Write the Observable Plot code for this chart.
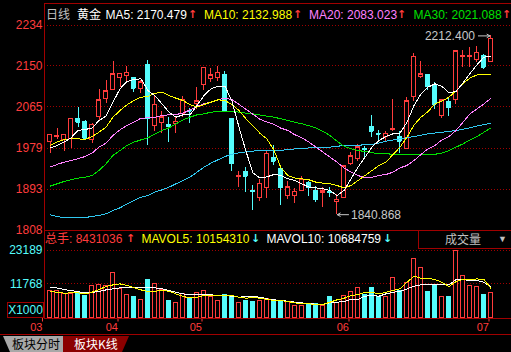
<!DOCTYPE html>
<html><head><meta charset="utf-8">
<script src="https://cdn.jsdelivr.net/npm/d3@7"></script>
<script src="https://cdn.jsdelivr.net/npm/@observablehq/plot@0.6"></script>
<style>
html,body{margin:0;padding:0;background:#000;}
#wrap{position:relative;width:511px;height:352px;overflow:hidden;background:#000;font-family:"Liberation Sans",Arial,"Noto Sans CJK SC",sans-serif;font-size:12px;}
.t{position:absolute;white-space:nowrap;line-height:14px;}
.ln{position:absolute;background:#a00000;}
.ar{font-family:"DejaVu Sans",sans-serif;font-weight:bold;font-size:11px;}
#wrap svg{position:absolute;left:0;overflow:visible;}
</style></head><body><div id="wrap"></div>
<script>
const RED = "#ff3c3c", CYAN = "#54fcfc", GRID = "#a00000", AXIS = "#a00000";
const FONT = '"Liberation Sans", Arial, "Noto Sans CJK SC", sans-serif';

// ---- daily candles (index 0..63) ----
const opens  = [1991.6,2003.3,1996.4,1998.5,2038.7,2034.5,1996.4,2043.5,2081.0,2100.3,2125.3,2129.4,2125.3,2101.7,2150.9,2024.8,2031.0,2027.6,2029.0,2050.4,2056.7,2070.5,2110.7,2121.8,2124.6,2130.1,2038.7,1920.2,1930.6,1889.8,1875.9,1896.0,1958.2,1936.8,1879.3,1880.1,1891.1,1907.1,1891.1,1885.5,1887.4,1866.8,1875.1,1946.6,1957.0,1977.0,2022.7,2008.9,2002.0,2016.5,2003.3,1977.7,2085.0,2128.0,2130.1,2109.3,2046.0,2074.7,2080.0,2168.9,2168.9,2162.7,2169.6,2157.8];
const highs  = [2007.5,2019.3,2007.5,2040.5,2062.9,2036.6,2031.0,2100.3,2119.7,2159.2,2134.0,2148.8,2126.0,2119.7,2161.3,2088.5,2055.3,2042.1,2043.5,2086.5,2060.8,2105.2,2147.0,2145.3,2148.1,2138.4,2039.0,1930.6,1939.6,1901.5,1913.3,1972.2,1984.6,1939.5,1909.8,1894.7,1920.2,1909.8,1899.4,1898.0,1898.0,1882.2,1941.5,1970.7,1986.1,1982.6,2047.0,2016.0,2013.0,2079.5,2013.7,2085.1,2176.5,2158.5,2131.0,2115.2,2078.8,2082.7,2180.6,2183.0,2187.6,2190.4,2173.0,2212.4];
const lows   = [1968.7,1997.1,1972.8,1977.7,2021.4,1997.1,1989.5,2036.6,2071.2,2100.0,2105.9,2116.3,2095.5,2092.0,1985.0,2013.7,2010.3,1991.6,2008.9,2043.5,2031.0,2058.8,2098.9,2116.3,2118.3,2056.0,1931.3,1898.0,1887.7,1849.6,1868.3,1875.2,1943.1,1860.0,1872.4,1864.8,1891.1,1879.3,1866.8,1856.4,1876.0,1840.868,1875.0,1943.1,1951.4,1960.3,2001.9,1996.0,1990.0,2014.4,1968.7,1977.0,2076.1,2123.2,2099.5,2058.8,2040.8,2044.2,2070.0,2147.4,2147.4,2157.8,2141.9,2157.5];
const closes = [2006.8,2004.7,2006.8,2040.1,2033.1,1999.9,2027.6,2078.2,2096.9,2132.2,2133.6,2136.3,2103.8,2115.6,2040.1,2069.8,2043.5,2024.8,2034.5,2079.5,2055.3,2076.1,2146.7,2130.1,2136.3,2056.0,1946.5,1921.6,1920.9,1888.4,1905.0,1967.3,1952.0,1896.7,1898.0,1888.4,1913.4,1898.0,1872.4,1889.1,1886.0,1872.4,1941.0,1961.8,1981.1,1976.0,2014.4,2007.9,2008.9,2017.9,1993.6,2076.4,2168.8,2132.9,2107.5,2070.2,2078.2,2063.0,2180.0,2170.0,2170.3,2177.2,2147.4,2206.3];
// volume, x1000
const volumes = [9300,9430,8290,8290,8860,7450,11150,11490,11150,15610,10000,8060,7150,6350,12980,11720,9660,6000,5320,8400,6800,8630,9430,7150,6000,7830,7380,5200,6000,5430,6000,6580,6000,6000,5660,4290,4290,4860,4860,4290,7380,5200,7720,9090,10460,7950,10230,7380,7150,13790,9430,12070,20300,17220,9090,11150,7380,7380,23050,14580,11150,10700,7950,8431];

// ---- moving averages ----
const ma5  = [1979.1,1984.6,1991.6,2000.6,2015.8,2017.9,2020.7,2036.6,2045.6,2074.7,2102.4,2117.6,2121.8,2123.2,2098.9,2088.0,2071.2,2053.9,2043.5,2048.4,2048.4,2067.8,2088.5,2102.4,2108.0,2108.0,2076.4,2022.7,1972.5,1927.5,1917.0,1919.5,1924.4,1922.3,1915.4,1911.9,1905.0,1898.1,1896.6,1894.6,1891.1,1880.7,1891.1,1915.4,1939.6,1960.4,1981.2,1995.0,2003.3,2008.9,2010.3,2033.1,2067.7,2092.0,2105.8,2112.8,2107.5,2094.0,2097.0,2114.5,2134.2,2152.5,2168.2,2170.5];
const ma10 = [1984.6,1991.6,1997.1,1998.5,1998.5,1997.1,2003.3,2012.3,2022.7,2043.5,2057.4,2069.1,2078.2,2085.1,2086.5,2093.0,2095.5,2088.5,2083.0,2078.2,2069.8,2064.3,2069.8,2074.7,2079.5,2078.2,2069.5,2057.4,2040.0,2025.0,2010.0,1998.0,1975.0,1938.0,1922.3,1916.8,1915.4,1913.3,1908.4,1906.3,1905.0,1901.5,1896.6,1901.5,1911.9,1922.3,1932.7,1943.1,1950.0,1966.0,1981.0,2002.0,2027.0,2043.5,2055.0,2071.2,2077.0,2085.0,2098.0,2113.0,2125.0,2131.2,2131.5,2133.0];
const ma20 = [1939.6,1945.2,1950.0,1953.5,1957.0,1961.8,1968.7,1981.2,1989.5,2005.4,2017.2,2026.2,2033.1,2041.4,2042.1,2043.5,2047.0,2048.4,2049.1,2051.8,2058.8,2065.7,2071.2,2074.7,2080.2,2083.0,2080.0,2070.0,2060.0,2049.5,2039.0,2033.5,2028.3,2020.6,2015.8,2006.8,2000.6,1991.6,1981.2,1970.8,1960.4,1950.0,1938.2,1929.2,1922.3,1917.5,1918.8,1922.3,1924.4,1929.2,1938.2,1943.1,1953.5,1965.9,1977.7,1984.6,1996.4,2003.3,2015.8,2033.1,2050.4,2060.8,2071.2,2083.0];
const ma30 = [1900.1,1905.0,1909.8,1913.3,1916.8,1918.8,1922.3,1932.7,1946.5,1963.9,1974.2,1984.6,1991.6,1996.4,2000.6,2008.9,2015.8,2021.4,2029.7,2038.0,2043.5,2048.4,2050.4,2053.9,2055.3,2056.0,2055.6,2054.0,2052.0,2050.5,2048.0,2045.5,2043.5,2040.0,2036.6,2033.0,2029.7,2025.5,2021.4,2014.0,2005.4,1993.6,1983.2,1977.7,1974.2,1972.2,1969.4,1968.3,1967.3,1966.6,1965.9,1965.9,1965.9,1965.9,1965.9,1966.5,1968.7,1974.2,1981.2,1988.1,1996.4,2003.3,2012.3,2021.1];
const ma60 = [1840.6,1837.1,1834.3,1834.3,1834.3,1835.0,1837.1,1839.2,1842.6,1849.6,1855.1,1863.4,1870.3,1877.3,1880.7,1887.7,1892.5,1898.0,1905.0,1911.9,1918.8,1929.2,1939.6,1948.0,1954.9,1961.8,1966.5,1969.5,1971.5,1973.0,1974.2,1974.2,1974.2,1975.0,1975.6,1977.5,1979.1,1979.5,1979.8,1980.5,1981.2,1983.0,1984.6,1985.0,1985.3,1986.0,1986.7,1990.0,1993.6,1996.0,1998.5,2001.0,2003.3,2006.0,2008.9,2010.5,2012.3,2014.0,2015.8,2018.5,2021.4,2025.0,2028.3,2031.0];
const mavol5  = [9090,8860,8520,8630,8630,8290,8860,9780,10800,11380,11720,11150,10460,9660,9090,9200,9430,9200,8290,7380,6920,7150,7720,7720,7600,7720,7720,7150,6800,7000,6800,6400,6000,6000,5660,5200,4860,4860,4630,4630,5430,6240,6800,7720,8060,8860,8860,8290,8860,9430,10010,12280,14340,13650,13650,13210,12280,10800,12520,13210,13210,13430,13210,10154];
const mavol10 = [10560,10300,9780,9430,9090,8630,8800,9090,9660,10010,10350,10350,10350,10400,10350,10350,10010,9430,8860,8290,8060,8060,8060,7950,7720,7720,7490,7150,7380,7380,7150,6580,6240,6000,5770,5430,5200,4970,4740,4740,5200,5430,5660,6350,6350,7490,7720,7490,8290,8860,9090,10010,10910,11380,11380,11380,11380,11380,13210,13210,12860,12860,12280,10685];

// ---- labels / ticks ----
const priceTicks = [2234, 2150, 2065, 1979, 1893, 1808];
const volTicks = [23189, 11768];
const monthTicks = [-0.79, 10, 22, 43, 63];
const monthLabels = ["03", "04", "05", "06", "07"];
const maNames = ["MA5", "MA10", "MA20", "MA30"];
const maLast = ["2170.479", "2132.988", "2083.023", "2021.088"];
const maColors = ["#ffffff", "#ffff00", "#ff80ff", "#00e000"];
const volTitle = ["总手", "8431036"], mavolNames = ["MAVOL5", "MAVOL10"], mavolLast = ["10154310", "10684759"];

// ---- build ----
const wrap = document.getElementById("wrap");
const n = opens.length;
const K = d3.range(n).map(i => ({i, o: opens[i], h: highs[i], l: lows[i], c: closes[i], v: volumes[i], up: closes[i] >= opens[i]}));
const up = K.filter(d => d.up), dn = K.filter(d => !d.up);
const HW = 2 / 7;
const xDomain = [-0.786, 65.93];
const crisp = {shapeRendering: "crispEdges"};
const series = arr => arr.map((v, i) => ({i, v}));
const line = (arr, color) => Plot.line(series(arr), {x: "i", y: "v", stroke: color, strokeWidth: 1, ...crisp});

const hi = d3.maxIndex(highs), lo = d3.minIndex(lows);
const ANN = "#c8c8c8";

const price = Plot.plot({
  width: 511, height: 231, marginLeft: 44, marginRight: 0, marginTop: 25, marginBottom: 1,
  style: {background: "transparent", fontFamily: FONT, fontSize: "12px", overflow: "visible"},
  x: {domain: xDomain, axis: null},
  y: {domain: [1808, 2234]},
  marks: [
    Plot.ruleY(priceTicks.slice(0, 5), {stroke: GRID, strokeDasharray: "1,2", ...crisp}),
    Plot.axisY(priceTicks, {tickSize: 0, tickPadding: 2, color: RED, fontSize: 12, label: null, tickFormat: d => String(d)}),
    Plot.ruleX(up, {x: "i", y1: "l", y2: "h", stroke: RED, ...crisp}),
    Plot.ruleX(dn, {x: "i", y1: "l", y2: "h", stroke: CYAN, ...crisp}),
    Plot.rect(up, {x1: d => d.i - HW, x2: d => d.i + HW, y1: "o", y2: "c", fill: "#000", stroke: RED, ...crisp}),
    Plot.rect(dn, {x1: d => d.i - HW, x2: d => d.i + HW, y1: "o", y2: "c", fill: CYAN, stroke: CYAN, ...crisp}),
    Plot.ruleY(up, {y: "c", x1: d => d.i - HW, x2: d => d.i + HW, stroke: RED, ...crisp}),
    Plot.ruleY(dn, {y: "c", x1: d => d.i - HW, x2: d => d.i + HW, stroke: CYAN, ...crisp}),
    line(ma60, "#30c8f0"),
    line(ma30, "#00e000"),
    line(ma20, "#ff80ff"),
    line(ma10, "#ffff00"),
    line(ma5, "#ffffff"),
    Plot.arrow([hi], {x1: d => d - 1.8, x2: d => d - 0.15, y1: d => highs[d], y2: d => highs[d], stroke: ANN, headLength: 5, strokeWidth: 1}),
    Plot.text([hi], {x: d => d, y: d => highs[d], text: d => highs[d].toFixed(3), textAnchor: "end", dx: -16, fill: ANN, fontSize: 12}),
    Plot.arrow([lo], {x1: d => d + 1.65, x2: d => d + 0.05, y1: d => lows[d], y2: d => lows[d], stroke: ANN, headLength: 5, strokeWidth: 1}),
    Plot.text([lo], {x: d => d, y: d => lows[d], text: d => lows[d].toFixed(3), textAnchor: "start", dx: 14, fill: ANN, fontSize: 12})
  ]
});
price.style.top = "0px";
wrap.appendChild(price);

const upV = K.filter(d => d.up), dnV = K.filter(d => !d.up);
const vol = Plot.plot({
  width: 511, height: 105, marginLeft: 44, marginRight: 0, marginTop: 20, marginBottom: 17.5,
  style: {background: "transparent", fontFamily: FONT, fontSize: "12px", overflow: "visible"},
  x: {domain: xDomain},
  y: {domain: [0, 23189]},
  marks: [
    Plot.ruleY(volTicks, {stroke: GRID, strokeDasharray: "1,2", ...crisp}),
    Plot.axisY(volTicks, {tickSize: 0, tickPadding: 2, color: CYAN, fontSize: 12, label: null, tickFormat: d => String(d)}),
    Plot.axisX(monthTicks, {tickSize: 4, tickPadding: 1, color: RED, textAnchor: "end", dx: -2, fontSize: 11, label: null, tickFormat: d => monthLabels[monthTicks.indexOf(d)]}),
    Plot.rect(upV, {x1: d => d.i - HW, x2: d => d.i + HW, y1: 0, y2: "v", fill: "#000", stroke: RED, ...crisp}),
    Plot.rect(dnV, {x1: d => d.i - HW, x2: d => d.i + HW, y1: 0, y2: "v", fill: CYAN, stroke: CYAN, ...crisp}),
    line(mavol10, "#ffffff"),
    line(mavol5, "#ffff00"),
    Plot.ruleY([0], {stroke: AXIS, ...crisp})
  ]
});
vol.style.top = "230px";
wrap.appendChild(vol);

// ---- frame lines, headers, boxes ----
function el(tag, cls, css, text) {
  const e = document.createElement(tag);
  if (cls) e.className = cls;
  Object.assign(e.style, css);
  if (text != null) e.textContent = text;
  wrap.appendChild(e);
  return e;
}
el("div", "ln", {left: "44px", top: "3px", width: "467px", height: "1px"});
el("div", "ln", {left: "44px", top: "4px", width: "1px", height: "314px"});
el("div", "ln", {left: "44px", top: "230px", width: "467px", height: "1px"});

// price header
el("div", "t", {left: "46px", top: "8px", color: "#c0c0c0"}, "日线");
el("div", "t", {left: "77px", top: "8px", color: "#ffffff"}, "黄金");
const maX = [105.5, 204, 309, 413.5], arX = [188, 293, 397, 502];
maNames.forEach((m, k) => {
  el("div", "t", {left: maX[k] + "px", top: "8px", color: maColors[k]}, m + ": " + maLast[k]);
  el("div", "t ar", {left: arX[k] + "px", top: "8px", color: RED}, "↑");
});

// volume header
el("div", "t", {left: "45px", top: "232px", color: RED}, volTitle[0] + ": " + volTitle[1]);
el("div", "t ar", {left: "126px", top: "232px", color: RED}, "↑");
el("div", "t", {left: "141.5px", top: "232px", color: "#ffff00"}, mavolNames[0] + ": " + mavolLast[0]);
el("div", "t ar", {left: "251px", top: "232px", color: CYAN}, "↓");
el("div", "t", {left: "266.5px", top: "232px", color: "#ffffff"}, mavolNames[1] + ": " + mavolLast[1]);
el("div", "t ar", {left: "383px", top: "232px", color: CYAN}, "↓");
el("div", "", {position: "absolute", left: "418px", top: "230px", width: "92px", height: "17px", border: "1px solid #a00000", borderRight: "none"});
el("div", "t", {left: "445px", top: "232px", color: "#c0c0c0", fontFamily: '"Noto Sans CJK SC",sans-serif'}, "成交量");
el("div", "t", {left: "498px", top: "232px", color: "#c0c0c0", fontSize: "9px"}, "▼");

// X1000 box
el("div", "t", {left: "7px", top: "302px", width: "35px", height: "14px", border: "1px solid #a00000", color: CYAN, textAlign: "center", lineHeight: "14px"}, "X1000");

// tabs
el("div", "ln", {left: "0px", top: "334px", width: "511px", height: "1px"});
el("div", "t", {left: "3px", top: "336px", width: "62px", height: "16px", background: "#a8a8a8", color: "#000", clipPath: "polygon(0 0,100% 0,100% 100%,7px 100%)", lineHeight: "16px", textIndent: "9px", fontFamily: '"Noto Sans CJK SC",sans-serif'}, "板块分时");
el("div", "t", {left: "63px", top: "336px", width: "66px", height: "16px", background: "#8b0000", color: "#fff", clipPath: "polygon(0 0,100% 0,calc(100% - 7px) 100%,0 100%)", lineHeight: "16px", textIndent: "11px", fontFamily: '"Noto Sans CJK SC",sans-serif'}, "板块K线");
</script>
</body></html>
